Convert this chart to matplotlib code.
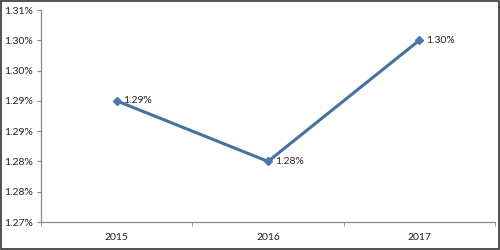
import matplotlib.pyplot as plt
from matplotlib.patches import Rectangle

# data
years = ['2015', '2016', '2017']
rates = [1.295, 1.285, 1.305]
rate_labels = ['1.29%', '1.28%', '1.30%']
yticks = [1.275, 1.280, 1.285, 1.290, 1.295, 1.300, 1.305, 1.310]
ytick_labels = ['1.27%', '1.28%', '1.28%', '1.29%', '1.29%', '1.30%', '1.30%', '1.31%']

plt.rcParams['font.family'] = ['Lato', 'DejaVu Sans']

fig = plt.figure(figsize=(5, 2.5), dpi=100)
ax = fig.add_axes([0.082, 0.112, 0.908, 0.848])

x = list(range(len(years)))
ax.plot(x, rates, color='#44729f', linewidth=2.2, marker='D', markersize=4.5,
        markerfacecolor='#4a78b0', markeredgecolor='#4a78b0')
for xi, yi, lab in zip(x, rates, rate_labels):
    ax.annotate(lab, (xi, yi), xytext=(5, 0), textcoords='offset points',
                va='center', ha='left', fontsize=7.5, color='#222222')

ax.set_xlim(-0.5, 2.5)
ax.set_ylim(1.275, 1.310)
ax.set_xticks(x)
ax.set_xticklabels(years)
ax.set_xticks([-0.5, 0.5, 1.5, 2.5], minor=True)
ax.tick_params(axis='x', which='major', length=0, labelsize=7.5, pad=8, labelcolor='#222222')
ax.tick_params(axis='x', which='minor', length=3, color='#888888', direction='out')
ax.set_yticks(yticks)
ax.set_yticklabels(ytick_labels)
ax.tick_params(axis='y', length=3, color='#888888', labelsize=7.5, labelcolor='#222222', pad=3)

for s in ['top', 'right']:
    ax.spines[s].set_visible(False)
for s in ['left', 'bottom']:
    ax.spines[s].set_color('#888888')
    ax.spines[s].set_linewidth(0.9)

# frame around the picture
fig.patches.append(Rectangle((0.002, 0.004), 0.996, 0.992, transform=fig.transFigure,
                             fill=False, edgecolor='#333333', linewidth=1.2))

fig.savefig('out.png', dpi=100)
